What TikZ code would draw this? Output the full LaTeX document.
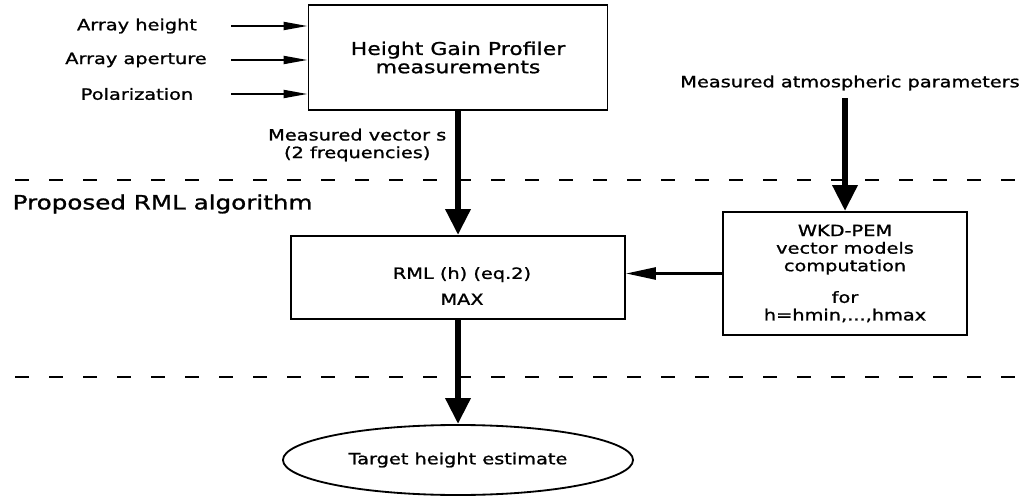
\documentclass[tikz,border=0pt]{standalone}
\usepackage{fontspec}
\setmainfont{DejaVu Sans}[FakeStretch=1.25, FakeBold=1.2]
\usepackage{tikz}
\usetikzlibrary{arrows.meta,positioning,shapes.geometric}

\begin{document}
\begin{tikzpicture}[x=0.025cm, y=-0.025cm,
        lbl/.style={font=\fontsize{11}{12.5}\selectfont, align=center, inner sep=1pt},
        procbox/.style={draw, line width=1.3pt, align=center, inner sep=0pt},
        divider/.style={line width=1.2pt, dash pattern=on 0.35cm off 0.5cm},
        inarrow/.style={line width=1.4pt, -{Triangle[length=0.6cm,width=0.2cm]}},
        bigarrow/.style={line width=4.5pt, -{Triangle[length=0.65cm,width=0.6cm]}},
        midarrow/.style={line width=1.9pt, -{Triangle[length=0.75cm,width=0.3cm]}}]
        \useasboundingbox (0,0) rectangle (1029,497);
        % Dashed separators
        \draw[divider] (15,180) -- (1029,180);
        \draw[divider] (15,377) -- (1029,377);
        % Measurement box and its inputs
        \node[procbox, font=\fontsize{12.5}{13}\selectfont, minimum width=7.475cm, minimum height=2.625cm] (hgp) at (458,57.5) {Height Gain Profiler\\measurements};
        \coordinate (instart) at (231,0);
        \node[lbl] (arrh) at (137,26) {Array height};
        \node[lbl] (arrap) at (136,60) {Array aperture};
        \node[lbl] (pol) at (137,94) {Polarization};
        \foreach \n in {arrh,arrap,pol}
            \draw[inarrow] (\n.center -| instart) -- (\n.center -| hgp.west);
        \node[lbl, anchor=east] (vec) at (448,145) {Measured vector s\\(2 frequencies)};
        \node[lbl] (atm) at (850,83) {Measured atmospheric parameters};
        % Algorithm part
        \node[lbl, font=\fontsize{14}{16}\selectfont, anchor=west] (algo) at (11,204) {Proposed RML algorithm};
        \node[procbox, minimum width=8.35cm, minimum height=2.075cm] (rml) at (458,277.5) {};
        \node[lbl] (rmltxt) at (462,286) {RML (h) (eq.2)\\[6pt]MAX};
        \node[procbox, lbl, inner sep=0pt, minimum width=6.1cm, minimum height=3.075cm] (wkd) at (845,273.5) {WKD-PEM\\vector models\\computation\\[10pt]for\\h=hmin,...,hmax};
        \node[draw, ellipse, lbl, line width=1.3pt, inner sep=0pt, minimum width=8.75cm, minimum height=1.75cm] (est) at (458,460) {Target height estimate};
        % Arrows
        \draw[bigarrow] (hgp.south) -- (rml.north);
        \draw[bigarrow, shorten <=0.15cm] (atm.south -| wkd.north) -- (wkd.north);
        \draw[midarrow] (wkd.west) -- (wkd.west -| rml.east);
        \draw[bigarrow] (rml.south) -- (est.north);
\end{tikzpicture}
\end{document}
